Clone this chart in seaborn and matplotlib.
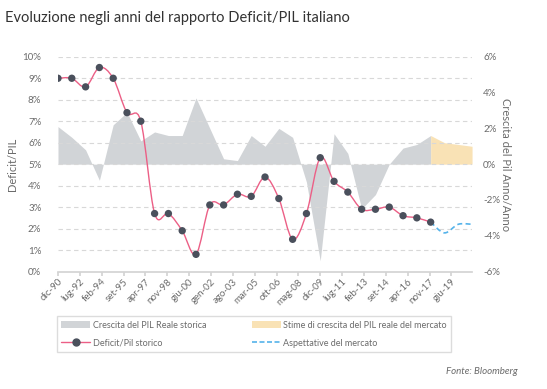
import numpy as np
import matplotlib
matplotlib.use("Agg")
import matplotlib.pyplot as plt
import seaborn as sns
from matplotlib.path import Path
from matplotlib.patches import PathPatch, Patch
from matplotlib.lines import Line2D

# --- dati ---
anni = list(range(1990, 2018))
deficit = [9.0, 9.0, 8.6, 9.5, 9.0, 7.4, 7.0, 2.7, 2.7, 1.9, 0.8, 3.1, 3.1, 3.6,
           3.5, 4.4, 3.4, 1.5, 2.7, 5.3, 4.2, 3.7, 2.9, 2.9, 3.0, 2.6, 2.5, 2.3]
crescita = [2.1, 1.5, 0.8, -0.9, 2.2, 2.9, 1.3, 1.8, 1.6, 1.6, 3.7, 2.0, 0.3, 0.2,
            1.6, 1.0, 2.0, 1.5, -1.0, -5.4, 1.7, 0.6, -2.5, -1.7, 0.0, 0.9, 1.1, 1.6]
anni_stima = [2017, 2018, 2019, 2020]
crescita_stima = [1.6, 1.2, 1.1, 1.0]
deficit_stima = [2.3, 1.8, 2.2, 2.2]
tick_labels = ['dic-90', 'lug-92', 'feb-94', 'set-95', 'apr-97', 'nov-98', 'giu-00',
               'gen-02', 'ago-03', 'mar-05', 'ott-06', 'mag-08', 'dic-09', 'lug-11',
               'feb-13', 'set-14', 'apr-16', 'nov-17', 'giu-19']

GRIGIO = '#d1d4d7'
ARANCIO = '#f9e2b5'
ROSA = '#ec5f86'
PUNTO = '#4a505c'
BLU = '#55b3ea'
TESTO = '#6b6b6b'


def mesi(anni_):
    return [(a - 1990) * 12 for a in anni_]


def curva_smussata(x, y):
    # curva "smooth" tipo Excel: Catmull-Rom come Bezier cubiche
    p = np.column_stack([x, y]).astype(float)
    verts = [p[0]]
    codes = [Path.MOVETO]
    n = len(p)
    for i in range(n - 1):
        p0 = p[i - 1] if i > 0 else p[i]
        p1, p2 = p[i], p[i + 1]
        p3 = p[i + 2] if i + 2 < n else p[i + 1]
        verts += [p1 + (p2 - p0) / 6, p2 - (p3 - p1) / 6, p2]
        codes += [Path.CURVE4] * 3
    return Path(verts, codes)


sns.set_theme(style='white')
plt.rcParams['font.family'] = ['Lato', 'DejaVu Sans']

fig = plt.figure(figsize=(5.47, 3.89), dpi=100)
ax = fig.add_axes([0.106, 0.302, 0.757, 0.552])
ax2 = ax.twinx()
ax.set_zorder(ax2.get_zorder() + 1)
ax.patch.set_visible(False)

# aree crescita PIL (asse destro)
ax2.fill_between(mesi(anni), crescita, 0, color=GRIGIO, lw=0)
ax2.fill_between(mesi(anni_stima), crescita_stima, 0, color=ARANCIO, lw=0)
ax2.set_ylim(-6, 6)
ax2.set_yticks(range(-6, 7, 2))
ax2.set_yticklabels([f'{v}%' for v in range(-6, 7, 2)])

# deficit/PIL (asse sinistro)
ax.add_patch(PathPatch(curva_smussata(mesi(anni), deficit), fill=False,
                       edgecolor=ROSA, lw=1.0, zorder=3))
ax.add_patch(PathPatch(curva_smussata(mesi(anni_stima), deficit_stima), fill=False,
                       edgecolor=BLU, lw=1.2, ls=(0, (3, 2)), zorder=3))
sns.scatterplot(x=mesi(anni), y=deficit, ax=ax, color=PUNTO, s=28,
                edgecolor='none', zorder=4, legend=False)

ax.set_ylim(0, 10)
ax.set_yticks(range(0, 11))
ax.set_yticklabels([f'{v}%' for v in range(0, 11)])
ax.set_xlim(0, 360)
ax.set_xticks([19 * k for k in range(len(tick_labels))])
ax.set_xticklabels(tick_labels, rotation=45, ha='right', rotation_mode='anchor')

ax.grid(axis='y', color='#d8d8d8', ls=(0, (4, 3)), lw=0.8)
ax.grid(axis='x', visible=False)
ax2.grid(False)
for a in (ax, ax2):
    for s in a.spines.values():
        s.set_visible(False)
ax.spines['bottom'].set_visible(True)
ax.spines['bottom'].set_color('#d4d4d4')
ax.tick_params(axis='x', bottom=True, length=3, color='#d4d4d4', labelsize=7,
               labelcolor=TESTO, pad=1)
ax.tick_params(axis='y', left=False, labelsize=7, labelcolor=TESTO, pad=6)
ax2.tick_params(axis='y', right=False, labelsize=7, labelcolor=TESTO, pad=2)

ax.set_ylabel('Deficit/PIL', fontsize=8, color=TESTO, labelpad=3)
ax2.set_ylabel('Crescita del Pil Anno/Anno', fontsize=8, color=TESTO,
               rotation=270, labelpad=8)

fig.text(0.009, 0.955, 'Evoluzione negli anni del rapporto Deficit/PIL italiano',
         fontsize=10.5, color='#333333', va='center')
fig.text(0.947, 0.046, 'Fonte: Bloomberg', fontsize=7, color=TESTO,
         style='italic', ha='right', va='center')

handles = [
    Patch(facecolor=GRIGIO, edgecolor='none'),
    Line2D([], [], color=ROSA, lw=1, marker='o', markersize=5,
           markerfacecolor=PUNTO, markeredgecolor=PUNTO),
    Patch(facecolor=ARANCIO, edgecolor='none'),
    Line2D([], [], color=BLU, lw=1.2, ls=(0, (3, 1.5))),
]
labels = ['Crescita del PIL Reale storica', 'Deficit/Pil storico',
          'Stime di crescita del PIL reale del mercato', 'Aspettative del mercato']
leg = fig.legend(handles, labels, ncol=2, loc='upper left',
                 bbox_to_anchor=(0.104, 1 - 316 / 389),
                 fontsize=6.5, frameon=True, fancybox=False, handlelength=3.2,
                 handleheight=0.7, handletextpad=0.25, labelspacing=1.0,
                 borderpad=0.5, borderaxespad=0, columnspacing=5.1)
leg.get_frame().set_edgecolor('#d4d4d4')
leg.get_frame().set_linewidth(1.0)
for t in leg.get_texts():
    t.set_color(TESTO)

fig.savefig('out.png', dpi=100)
